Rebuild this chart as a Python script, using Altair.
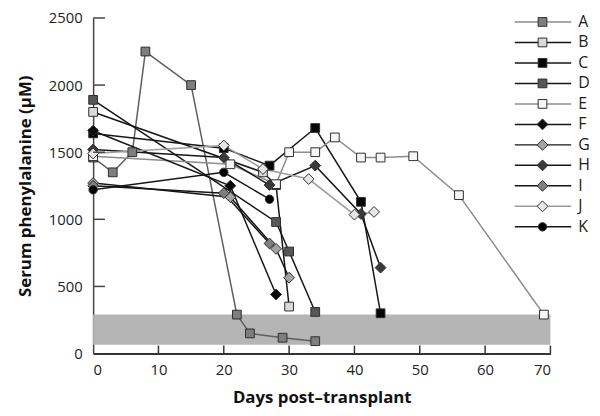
import altair as alt
import pandas as pd

series_names = ["A", "B", "C", "D", "E", "F", "G", "H", "I", "J", "K"]
square_series = ["A", "B", "C", "D", "E"]
diamond_series = ["F", "G", "H", "I", "J"]
circle_series = ["K"]

days_A = [0, 3, 6, 8, 15, 22, 24, 29, 34]
vals_A = [1460, 1350, 1500, 2250, 2000, 290, 150, 118, 92]
days_B = [0, 26, 28, 30]
vals_B = [1800, 1350, 1255, 350]
days_C = [0, 20, 27, 34, 41, 44]
vals_C = [1640, 1530, 1400, 1680, 1130, 300]
days_D = [0, 28, 30, 34]
vals_D = [1890, 980, 760, 310]
days_E = [0, 21, 28, 30, 34, 37, 41, 44, 49, 56, 69]
vals_E = [1470, 1410, 1262, 1500, 1500, 1610, 1460, 1460, 1470, 1180, 290]
days_F = [0, 21, 28]
vals_F = [1660, 1250, 440]
days_G = [0, 21, 28, 30]
vals_G = [1270, 1165, 780, 565]
days_H = [0, 20, 27, 34, 41, 44]
vals_H = [1520, 1460, 1255, 1400, 1040, 640]
days_I = [0, 20, 27]
vals_I = [1250, 1195, 820]
days_J = [0, 20, 26, 33, 40, 43]
vals_J = [1490, 1550, 1375, 1300, 1035, 1055]
days_K = [0, 20, 27]
vals_K = [1220, 1350, 1150]

band_low = [65]
band_high = [290]
band_start = [0]
band_end = [70]

x_ticks = [0, 10, 20, 30, 40, 50, 60, 70]
y_ticks = [0, 500, 1000, 1500, 2000, 2500]

line_colors = ["#5e5e5e", "#161616", "#161616", "#161616", "#8c8c8c", "#161616",
               "#161616", "#161616", "#161616", "#9c9c9c", "#161616"]
legend_line_colors = ["#8a8a8a", "#161616", "#161616", "#161616", "#8c8c8c", "#161616",
                      "#161616", "#161616", "#161616", "#9c9c9c", "#161616"]
fill_colors = ["#7e7e7e", "#dadada", "#050505", "#575757", "#f6f6f6", "#0a0a0a",
               "#a3a3a3", "#3a3a3a", "#7f7f7f", "#e6e6e6", "#000000"]

all_days = [days_A, days_B, days_C, days_D, days_E, days_F, days_G, days_H, days_I, days_J, days_K]
all_vals = [vals_A, vals_B, vals_C, vals_D, vals_E, vals_F, vals_G, vals_H, vals_I, vals_J, vals_K]

rows = []
for name, ds, vs in zip(series_names, all_days, all_vals):
    for i, (d, v) in enumerate(zip(ds, vs)):
        rows.append({"series": name, "day": d, "value": v, "idx": i})
df = pd.DataFrame(rows)

W, H = 462, 339
FONT = "Open Sans"

xscale = alt.Scale(domain=[0, 70], nice=False)
yscale = alt.Scale(domain=[0, 2500], nice=False)
xaxis = alt.Axis(values=x_ticks, title="Days post\u2013transplant", ticks=False, grid=False,
                 domainColor="#333333", domainWidth=2, labelFontSize=15, labelColor="#222222",
                 labelPadding=9, labelFont=FONT, titleFont=FONT, titleFontSize=17,
                 titleFontWeight="bold", titleColor="#111111", titlePadding=12, format="d")
yaxis = alt.Axis(values=y_ticks, title="Serum phenylalanine (\u00b5M)", ticks=False, grid=False,
                 domainColor="#444444", domainWidth=1.5, labelFontSize=15, labelColor="#222222",
                 labelPadding=11, labelFont=FONT, titleFont=FONT, titleFontSize=17,
                 titleFontWeight="bold", titleColor="#111111", titlePadding=14, format="d")

color_scale = alt.Scale(domain=series_names, range=line_colors)
fill_scale = alt.Scale(domain=series_names, range=fill_colors)

band_df = pd.DataFrame({"day": band_start, "day2": band_end, "value": band_low, "value2": band_high})
band = alt.Chart(band_df).mark_rect(color="#b5b5b5").encode(
    x=alt.X("day:Q", scale=xscale, axis=xaxis),
    x2="day2:Q",
    y=alt.Y("value:Q", scale=yscale, axis=yaxis),
    y2="value2:Q",
)

lines = alt.Chart(df).mark_line(strokeWidth=1.5).encode(
    x=alt.X("day:Q", scale=xscale, axis=xaxis),
    y=alt.Y("value:Q", scale=yscale, axis=yaxis),
    color=alt.Color("series:N", scale=color_scale, legend=None),
    order="idx:Q",
)


def marker_layer(data, members, shape, size, xenc, yenc):
    return alt.Chart(data).transform_filter(
        alt.FieldOneOfPredicate(field="series", oneOf=members)
    ).mark_point(filled=True, opacity=1, stroke="#2e2e2e", strokeWidth=1, shape=shape, size=size).encode(
        x=xenc, y=yenc,
        fill=alt.Fill("series:N", scale=fill_scale, legend=None),
    )


px = alt.X("day:Q", scale=xscale, axis=xaxis)
py = alt.Y("value:Q", scale=yscale, axis=yaxis)
pts_sq = marker_layer(df, square_series, "square", 78, px, py)
pts_di = marker_layer(df, diamond_series, "diamond", 120, px, py)
pts_ci = marker_layer(df, circle_series, "circle", 72, px, py)

yt_df = pd.DataFrame({"value": y_ticks[1:]})
ytick_marks = alt.Chart(yt_df).mark_rule(color="#444444", strokeWidth=1.5).encode(
    y=alt.Y("value:Q", scale=yscale, axis=yaxis),
    x=alt.value(0),
    x2=alt.value(12),
)
xt_df = pd.DataFrame({"day": x_ticks[1:]})
xtick_marks = alt.Chart(xt_df).mark_rule(color="#333333", strokeWidth=1.5).encode(
    x=alt.X("day:Q", scale=xscale, axis=xaxis),
    y=alt.value(H),
    y2=alt.value(H - 8),
)

main = alt.layer(band, lines, pts_sq, pts_di, pts_ci, ytick_marks, xtick_marks)

leg_df = pd.DataFrame({"series": series_names})
leg_y = alt.Y("series:N", scale=alt.Scale(type="point", domain=series_names, range=[4, 211], padding=0), axis=None)
leg_x = alt.value(454)
leg_lines = alt.Chart(leg_df).mark_rule(strokeWidth=1.5).encode(
    y=leg_y, x=alt.value(426), x2=alt.value(483),
    color=alt.Color("series:N", scale=alt.Scale(domain=series_names, range=legend_line_colors), legend=None),
)
leg_sq = marker_layer(leg_df, square_series, "square", 78, leg_x, leg_y)
leg_di = marker_layer(leg_df, diamond_series, "diamond", 120, leg_x, leg_y)
leg_ci = marker_layer(leg_df, circle_series, "circle", 72, leg_x, leg_y)
leg_text = alt.Chart(leg_df).mark_text(align="left", baseline="middle", font=FONT, fontSize=16,
                                        color="#1a1a1a").encode(
    y=leg_y, x=alt.value(490), text="series:N",
)
legend = alt.layer(leg_lines, leg_sq, leg_di, leg_ci, leg_text)

chart = alt.layer(main, legend).resolve_scale(y="independent", color="independent").properties(
    width=W, height=H,
    autosize=alt.AutoSizeParams(type="none"),
    padding={"left": 86, "top": 8, "right": 42, "bottom": 58},
).configure_view(stroke=None)

chart.save("out.html", embed_options={"renderer": "svg", "actions": False})
